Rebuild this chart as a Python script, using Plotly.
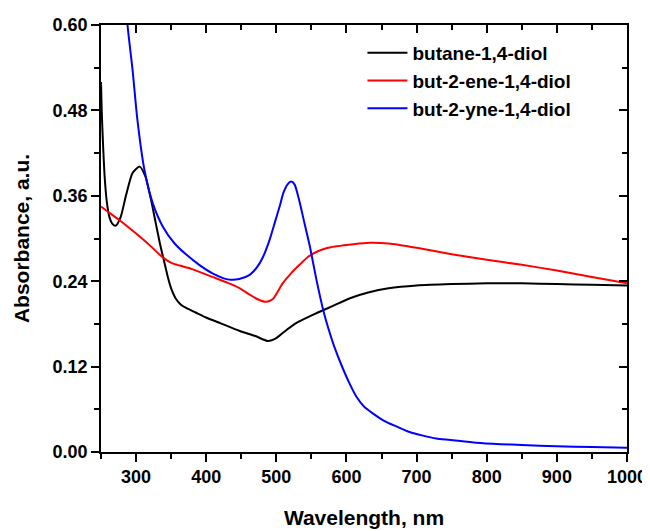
import plotly.graph_objects as go

# butane-1,4-diol (black)
wl_butane = [250, 251, 253, 255, 258, 262, 266, 271, 278, 286, 295, 305, 313, 321, 328, 334, 340, 345, 350, 357, 364, 372, 385, 400, 420, 448, 470, 488, 500, 510, 530, 557, 580, 605, 631, 660, 700, 750, 800, 850, 900, 950, 1000]
abs_butane = [0.52, 0.48, 0.43, 0.39, 0.354, 0.330, 0.321, 0.318, 0.330, 0.362, 0.392, 0.401, 0.388, 0.356, 0.322, 0.293, 0.268, 0.247, 0.230, 0.215, 0.207, 0.202, 0.196, 0.189, 0.181, 0.170, 0.163, 0.156, 0.160, 0.168, 0.182, 0.195, 0.205, 0.216, 0.224, 0.230, 0.234, 0.236, 0.237, 0.237, 0.236, 0.235, 0.234]

# but-2-ene-1,4-diol (red)
wl_butene = [250, 262, 276, 290, 306, 320, 333, 343, 352, 362, 380, 409, 430, 448, 462, 475, 486, 495, 509, 520, 533, 545, 557, 570, 586, 610, 633, 660, 700, 750, 800, 850, 900, 950, 1000]
abs_butene = [0.345, 0.336, 0.326, 0.315, 0.302, 0.290, 0.278, 0.270, 0.265, 0.262, 0.257, 0.246, 0.238, 0.230, 0.221, 0.214, 0.211, 0.215, 0.237, 0.250, 0.263, 0.274, 0.281, 0.286, 0.289, 0.292, 0.294, 0.293, 0.287, 0.278, 0.270, 0.263, 0.255, 0.246, 0.237]

# but-2-yne-1,4-diol (blue)
wl_butyne = [282, 288, 295, 302, 312, 324, 338, 355, 372, 390, 409, 425, 435, 447, 462, 472, 481, 490, 498, 505, 510, 516, 521, 526, 533, 540, 548, 557, 567, 576, 583, 595, 605, 614, 625, 638, 655, 671, 690, 709, 728, 748, 785, 820, 850, 900, 950, 1000]
abs_butyne = [0.68, 0.598, 0.537, 0.466, 0.396, 0.349, 0.317, 0.293, 0.277, 0.263, 0.251, 0.244, 0.242, 0.243, 0.249, 0.259, 0.274, 0.297, 0.323, 0.346, 0.364, 0.376, 0.380, 0.376, 0.352, 0.322, 0.288, 0.243, 0.199, 0.168, 0.147, 0.117, 0.095, 0.078, 0.064, 0.054, 0.043, 0.036, 0.028, 0.023, 0.019, 0.017, 0.013, 0.011, 0.010, 0.008, 0.007, 0.006]

series = [
    ("butane-1,4-diol", wl_butane, abs_butane, "#000000"),
    ("but-2-ene-1,4-diol", wl_butene, abs_butene, "#ff0000"),
    ("but-2-yne-1,4-diol", wl_butyne, abs_butyne, "#0000ff"),
]

x_ticks = [300, 400, 500, 600, 700, 800, 900, 1000]
x_minor = [250, 350, 450, 550, 650, 750, 850, 950]
y_ticks = [0.00, 0.12, 0.24, 0.36, 0.48, 0.60]
y_minor = [0.06, 0.18, 0.30, 0.42, 0.54]

FONT = "Liberation Sans"

fig = go.Figure()
for name, x, y, c in series:
    fig.add_trace(go.Scatter(x=x, y=y, name=name, mode="lines",
                             line=dict(color=c, width=2, shape="spline", smoothing=0.6)))

# invisible trace to anchor mirrored axes with inward ticks
fig.add_trace(go.Scatter(x=[250, 1000], y=[0, 0.6], xaxis="x2", yaxis="y2",
                         mode="markers", marker=dict(opacity=0), showlegend=False,
                         hoverinfo="skip"))

common_line = dict(showline=True, linecolor="black", linewidth=1.5, showgrid=False,
                   zeroline=False, automargin=False)

fig.update_layout(
    width=650, height=531,
    margin=dict(l=93, r=31, t=17, b=87, autoexpand=False),
    paper_bgcolor="white", plot_bgcolor="white",
    font=dict(family=FONT, color="black"),
    showlegend=True,
    legend=dict(x=0.497, y=0.979, xanchor="left", yanchor="top",
                bgcolor="rgba(0,0,0,0)", borderwidth=0,
                font=dict(family=FONT, size=19, weight="bold"),
                tracegroupgap=0, itemwidth=40),
    xaxis=dict(range=[250, 1000], tickvals=x_ticks, ticktext=[str(v) for v in x_ticks],
               ticks="outside", ticklen=8, tickwidth=1.5, tickcolor="black",
               minor=dict(tickvals=x_minor, ticks="outside",
                          ticklen=5, tickwidth=1.5, tickcolor="black"),
               tickfont=dict(family=FONT, size=18, weight="bold"),
               title=dict(text="Wavelength, nm", font=dict(family=FONT, size=21, weight="bold"),
                          standoff=24),
               **common_line),
    yaxis=dict(range=[0, 0.6], tickvals=y_ticks, ticktext=["%.2f" % v for v in y_ticks],
               ticks="outside", ticklen=8, tickwidth=1.5, tickcolor="black",
               minor=dict(tickvals=y_minor, ticks="outside",
                          ticklen=5, tickwidth=1.5, tickcolor="black"),
               tickfont=dict(family=FONT, size=18, weight="bold"),
               title=dict(text="Absorbance, a.u.", font=dict(family=FONT, size=21, weight="bold"),
                          standoff=17),
               **common_line),
    xaxis2=dict(range=[250, 1000], overlaying="x", side="top", anchor="y2",
                tickvals=x_ticks, showticklabels=False, ticks="inside", ticklen=8,
                tickwidth=1.5, tickcolor="black",
                minor=dict(tickvals=x_minor, ticks="inside",
                           ticklen=5, tickwidth=1.5, tickcolor="black"),
                **common_line),
    yaxis2=dict(range=[0, 0.6], overlaying="y", side="right", anchor="x2",
                tickvals=y_ticks, showticklabels=False, ticks="inside", ticklen=8,
                tickwidth=1.5, tickcolor="black",
                minor=dict(tickvals=y_minor, ticks="inside",
                           ticklen=5, tickwidth=1.5, tickcolor="black"),
                **common_line),
)

fig.write_html("out.html")
